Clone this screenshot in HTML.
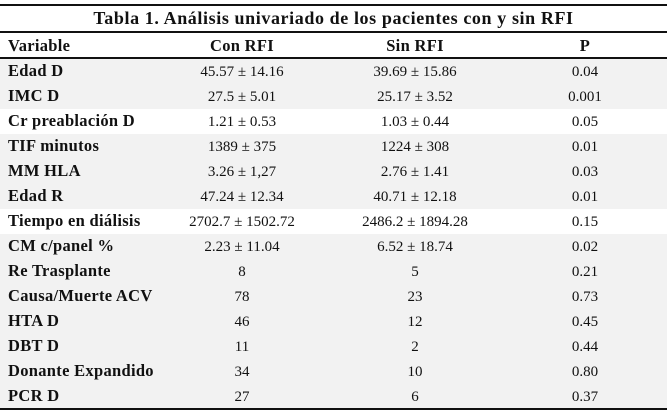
<!DOCTYPE html>
<html><head><meta charset="utf-8"><style>
body{margin:0;width:667px;height:412px;background:#fff;position:relative;font-family:"Liberation Serif",serif;color:#111;overflow:hidden}
.l{position:absolute;left:0;width:667px;height:2px;background:#111}
.row{position:absolute;left:0;width:667px;height:25px;background:#f2f2f2}
.row.w{background:#fff}
.c{position:absolute;top:1px;line-height:25px;font-size:15px;white-space:nowrap}
.v{top:-1px;left:8px;font-weight:bold;font-size:16.5px;letter-spacing:0.3px}
.a{left:242px;transform:translateX(-50%)}
.b{left:415px;transform:translateX(-50%)}
.p{left:585px;transform:translateX(-50%)}
.t{position:absolute;top:5px;left:0;width:667px;text-align:center;font-weight:bold;font-size:18px;letter-spacing:0.6px;line-height:26px}
.h{position:absolute;top:33px;height:25px;width:667px}
.h .c{top:0;font-weight:bold;font-size:16.5px;letter-spacing:0.3px}
</style></head><body>
<div class="l" style="top:4px"></div>
<div class="t">Tabla 1. Análisis univariado de los pacientes con y sin RFI</div>
<div class="l" style="top:31px"></div>
<div class="h"><span class="c v">Variable</span><span class="c a">Con RFI</span><span class="c b">Sin RFI</span><span class="c p">P</span></div>
<div class="l" style="top:57px"></div>
<div class="row" style="top:59px"><span class="c v">Edad D</span><span class="c a">45.57 ± 14.16</span><span class="c b">39.69 ± 15.86</span><span class="c p">0.04</span></div>
<div class="row" style="top:84px"><span class="c v">IMC D</span><span class="c a">27.5 ± 5.01</span><span class="c b">25.17 ± 3.52</span><span class="c p">0.001</span></div>
<div class="row w" style="top:109px"><span class="c v">Cr preablación D</span><span class="c a">1.21 ± 0.53</span><span class="c b">1.03 ± 0.44</span><span class="c p">0.05</span></div>
<div class="row" style="top:134px"><span class="c v">TIF minutos</span><span class="c a">1389 ± 375</span><span class="c b">1224 ± 308</span><span class="c p">0.01</span></div>
<div class="row" style="top:159px"><span class="c v">MM HLA</span><span class="c a">3.26 ± 1,27</span><span class="c b">2.76 ± 1.41</span><span class="c p">0.03</span></div>
<div class="row" style="top:184px"><span class="c v">Edad R</span><span class="c a">47.24 ± 12.34</span><span class="c b">40.71 ± 12.18</span><span class="c p">0.01</span></div>
<div class="row w" style="top:209px"><span class="c v">Tiempo en diálisis</span><span class="c a">2702.7 ± 1502.72</span><span class="c b">2486.2 ± 1894.28</span><span class="c p">0.15</span></div>
<div class="row" style="top:234px"><span class="c v">CM c/panel %</span><span class="c a">2.23 ± 11.04</span><span class="c b">6.52 ± 18.74</span><span class="c p">0.02</span></div>
<div class="row" style="top:259px"><span class="c v">Re Trasplante</span><span class="c a">8</span><span class="c b">5</span><span class="c p">0.21</span></div>
<div class="row" style="top:284px"><span class="c v">Causa/Muerte ACV</span><span class="c a">78</span><span class="c b">23</span><span class="c p">0.73</span></div>
<div class="row" style="top:309px"><span class="c v">HTA D</span><span class="c a">46</span><span class="c b">12</span><span class="c p">0.45</span></div>
<div class="row" style="top:334px"><span class="c v">DBT D</span><span class="c a">11</span><span class="c b">2</span><span class="c p">0.44</span></div>
<div class="row" style="top:359px"><span class="c v">Donante Expandido</span><span class="c a">34</span><span class="c b">10</span><span class="c p">0.80</span></div>
<div class="row" style="top:384px"><span class="c v">PCR D</span><span class="c a">27</span><span class="c b">6</span><span class="c p">0.37</span></div>
<div class="l" style="top:408px"></div>
</body></html>
